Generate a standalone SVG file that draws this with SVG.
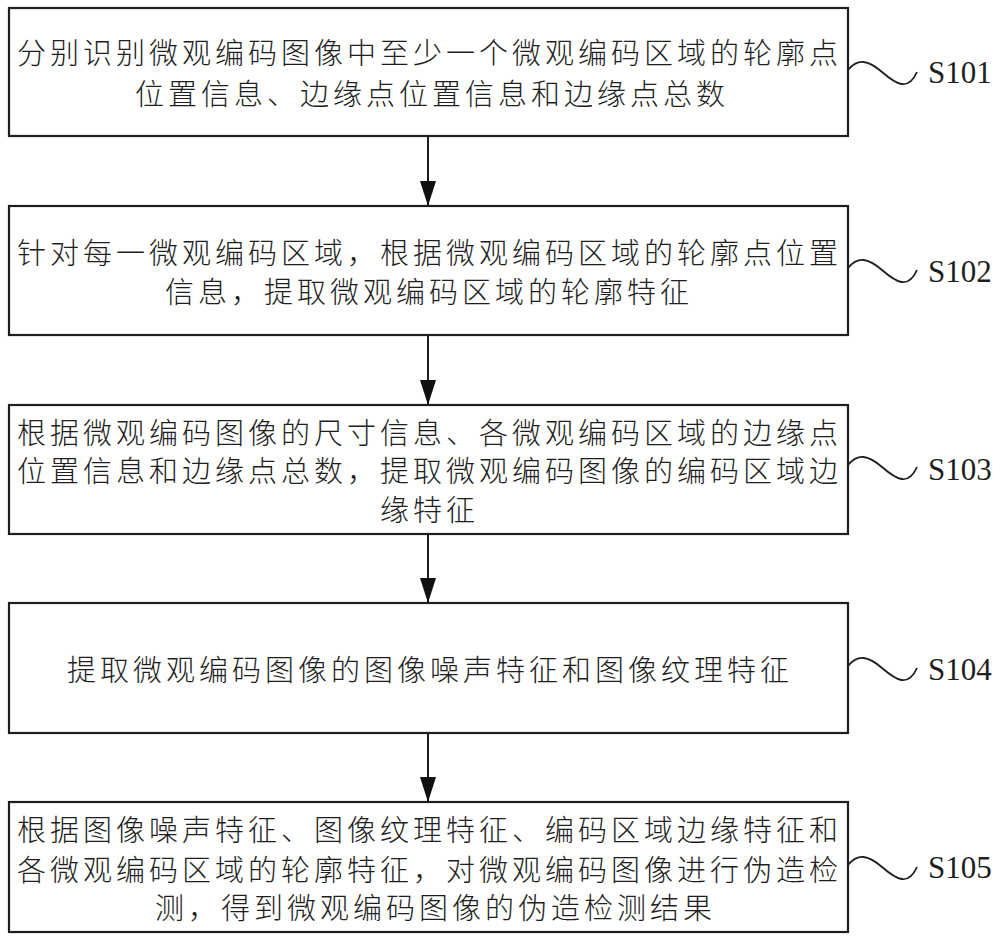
<svg xmlns="http://www.w3.org/2000/svg" width="1000" height="937" viewBox="0 0 1000 937">
<defs>
<style>
.box{fill:#fff;stroke:#1e1e1e;stroke-width:2.2}
.t{font-family:"Noto Sans CJK SC","Noto Sans",sans-serif;font-size:29px;font-weight:300;letter-spacing:4px;fill:#1e1e1e}
.lbl{font-family:"Liberation Serif",serif;font-size:31px;fill:#1e1e1e}
.wave{fill:none;stroke:#1e1e1e;stroke-width:1.8}
.edge{stroke:#1e1e1e;stroke-width:2;fill:none}
</style>
<marker id="ah" markerWidth="26" markerHeight="18" refX="25" refY="9" orient="auto" markerUnits="userSpaceOnUse" viewBox="0 0 26 18">
<path d="M0,1 L25,9 L0,17 Z" fill="#111"/>
</marker>
</defs>
<rect width="1000" height="937" fill="#fff"/>
<g id="connectors">
<line class="edge" x1="428" y1="136" x2="428" y2="206" marker-end="url(#ah)"/>
<line class="edge" x1="428" y1="335" x2="428" y2="405" marker-end="url(#ah)"/>
<line class="edge" x1="428" y1="534" x2="428" y2="603" marker-end="url(#ah)"/>
<line class="edge" x1="428" y1="733" x2="428" y2="802" marker-end="url(#ah)"/>
</g>
<g id="S101">
<rect class="box" x="9" y="8" width="839" height="128"/>
<text class="t" x="17" y="64">分别识别微观编码图像中至少一个微观编码区域的轮廓点</text>
<text class="t" x="135" y="105">位置信息、边缘点位置信息和边缘点总数</text>
<path class="wave" d="M848,70 C858,58 868,60 882,72 S908,92 917,72"/>
<text class="lbl" x="928" y="83">S101</text>
</g>
<g id="S102">
<rect class="box" x="9" y="206" width="839" height="129"/>
<text class="t" x="17" y="264">针对每一微观编码区域，根据微观编码区域的轮廓点位置</text>
<text class="t" x="165" y="303">信息，提取微观编码区域的轮廓特征</text>
<path class="wave" d="M848,268 C858,256 868,258 882,270 S908,290 917,270"/>
<text class="lbl" x="928" y="282">S102</text>
</g>
<g id="S103">
<rect class="box" x="9" y="405" width="839" height="129"/>
<text class="t" x="17" y="444">根据微观编码图像的尺寸信息、各微观编码区域的边缘点</text>
<text class="t" x="17" y="482">位置信息和边缘点总数，提取微观编码图像的编码区域边</text>
<text class="t" x="380" y="521">缘特征</text>
<path class="wave" d="M848,465 C858,453 868,455 882,467 S908,487 917,467"/>
<text class="lbl" x="928" y="480">S103</text>
</g>
<g id="S104">
<rect class="box" x="9" y="603" width="839" height="130"/>
<text class="t" x="67" y="681">提取微观编码图像的图像噪声特征和图像纹理特征</text>
<path class="wave" d="M848,666 C858,654 868,656 882,668 S908,688 917,668"/>
<text class="lbl" x="928" y="680">S104</text>
</g>
<g id="S105">
<rect class="box" x="9" y="802" width="839" height="130"/>
<text class="t" x="17" y="841">根据图像噪声特征、图像纹理特征、编码区域边缘特征和</text>
<text class="t" x="17" y="881">各微观编码区域的轮廓特征，对微观编码图像进行伪造检</text>
<text class="t" x="155" y="919">测，得到微观编码图像的伪造检测结果</text>
<path class="wave" d="M848,865 C858,853 868,855 882,867 S908,887 917,867"/>
<text class="lbl" x="928" y="878">S105</text>
</g>
</svg>
